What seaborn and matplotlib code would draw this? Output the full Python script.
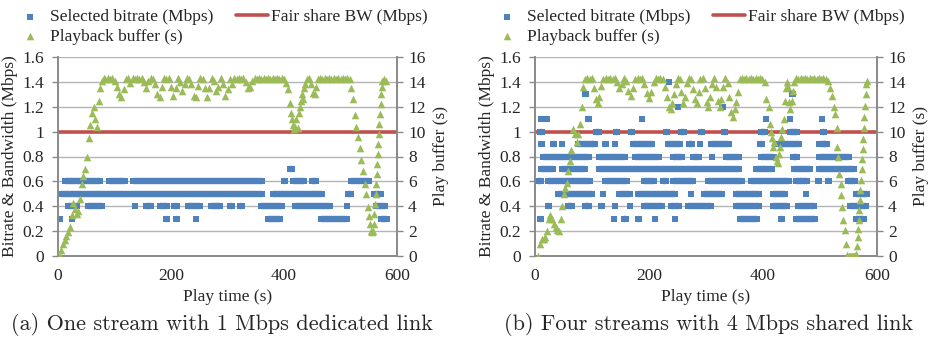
import matplotlib
matplotlib.use('Agg')
import matplotlib.pyplot as plt
import seaborn as sns

# ---- panel (a): one stream, 1 Mbps dedicated link ----
# bitrate runs per level: (first segment, last segment) in play time (s)
a_levels = [0.3, 0.4, 0.5, 0.6, 0.7]
a_runs = [
    [(4, 4), (24, 24), (191, 193), (208, 211), (245, 245), (371, 393), (465, 512), (571, 583)],
    [(17, 34), (53, 78), (136, 136), (156, 164), (180, 193), (206, 211), (230, 252), (270, 287),
     (304, 308), (322, 326), (359, 397), (419, 482), (512, 512), (562, 579)],
    [(5, 361), (380, 468), (513, 518), (559, 571)],
    [(12, 75), (90, 119), (132, 361), (400, 401), (416, 436), (450, 456), (519, 550)],
    [(410, 414)],
]
a_buf_t = [3, 6, 9, 12, 15, 18, 21, 24, 27, 30,
           33, 36, 39, 42, 45, 48, 51, 54, 57, 60,
           63, 66, 69, 72, 75, 78, 81, 84, 88, 92,
           96, 100, 104, 108, 112, 116, 120, 124, 128, 132,
           136, 140, 144, 148, 152, 156, 160, 164, 168, 172,
           176, 180, 184, 188, 192, 196, 200, 204, 208, 212,
           216, 220, 224, 228, 232, 236, 240, 244, 248, 252,
           256, 260, 264, 268, 272, 276, 280, 284, 288, 292,
           296, 300, 304, 308, 312, 316, 320, 324, 328, 332,
           336, 340, 344, 348, 352, 356, 360, 364, 368, 372,
           376, 380, 384, 388, 392, 396, 400, 404, 407, 410,
           412, 414, 416, 418, 420, 422, 424, 426, 428, 430,
           432, 434, 436, 438, 441, 444, 448, 451, 454, 457,
           460, 464, 468, 472, 476, 480, 484, 488, 492, 496,
           500, 504, 508, 512, 516, 519, 522, 525, 528, 531,
           534, 537, 540, 543, 545, 548, 550, 552, 554, 556,
           558, 559, 560, 561, 562, 563, 564, 565, 566, 567,
           568, 569, 570, 571, 572, 573, 574, 577, 580]
a_buf_v = [0.0, 0.5, 1.0, 1.3, 1.6, 1.9, 2.3, 3.3, 4.3, 3.8,
           3.4, 3.6, 4.6, 5.8, 6.4, 7.0, 8.0, 9.5, 10.5, 11.5,
           12.0, 11.0, 10.4, 12.5, 13.5, 14.1, 14.3, 14.2, 14.3, 14.2,
           14.3, 14.1, 13.6, 13.0, 12.8, 13.4, 14.2, 14.3, 13.9, 14.3,
           14.2, 14.3, 14.2, 14.3, 14.0, 13.5, 14.1, 14.3, 14.2, 13.8,
           13.0, 12.8, 13.6, 14.3, 14.2, 14.3, 13.6, 12.9, 13.5, 14.3,
           14.0, 13.3, 13.8, 14.3, 14.2, 13.8, 12.9, 12.8, 13.7, 14.3,
           14.2, 13.5, 12.8, 13.5, 14.3, 14.1, 13.3, 13.6, 14.3, 13.8,
           12.9, 13.4, 14.2, 13.8, 14.3, 14.2, 14.3, 14.2, 14.3, 14.0,
           13.5, 13.6, 14.1, 14.3, 14.2, 14.3, 14.2, 14.3, 14.2, 14.3,
           14.2, 14.3, 14.2, 14.3, 14.2, 14.3, 14.2, 13.9, 13.4, 12.3,
           11.5, 11.0, 10.5, 10.2, 10.4, 11.0, 10.3, 11.5, 12.0, 12.5,
           13.0, 12.6, 13.5, 13.8, 14.2, 14.3, 13.8, 13.1, 13.0, 13.6,
           14.2, 14.3, 14.2, 14.3, 14.2, 14.3, 14.2, 14.3, 14.2, 14.3,
           14.2, 14.3, 14.2, 14.3, 14.2, 13.5, 12.6, 11.3, 10.4, 9.6,
           8.7, 7.7, 6.8, 5.8, 5.0, 3.9, 3.2, 2.6, 2.0, 1.9,
           2.0, 2.6, 3.4, 4.2, 5.0, 5.8, 6.6, 7.4, 8.2, 9.0,
           9.8, 10.6, 11.4, 12.2, 13.0, 13.6, 14.1, 14.2, 14.1]

# ---- panel (b): four streams, 4 Mbps shared link ----
b_levels = [0.3, 0.4, 0.5, 0.6, 0.7, 0.8, 0.9, 1.0, 1.1, 1.2, 1.3, 1.4]
b_runs = [
    [(8, 10), (139, 139), (157, 159), (180, 182), (210, 211), (245, 246), (359, 390), (432, 434),
     (458, 492), (563, 577)],
    [(22, 24), (58, 65), (87, 94), (116, 118), (140, 140), (166, 166), (192, 223), (239, 252),
     (268, 308), (353, 393), (417, 442), (461, 490), (552, 580)],
    [(40, 100), (119, 119), (148, 167), (180, 246), (274, 274), (297, 328), (353, 393), (417, 439),
     (476, 476), (563, 583)],
    [(5, 10), (22, 97), (122, 161), (192, 208), (224, 229), (242, 278), (303, 363), (379, 445),
     (458, 477), (496, 498), (514, 515), (549, 562)],
    [(11, 32), (48, 88), (113, 358), (388, 416), (455, 483), (499, 559)],
    [(14, 94), (113, 158), (175, 217), (242, 258), (277, 287), (311, 311), (335, 358), (397, 419),
     (452, 460), (499, 551)],
    [(10, 12), (31, 33), (48, 48), (75, 106), (122, 124), (140, 141), (172, 206), (233, 255),
     (271, 276), (290, 290), (309, 340), (394, 399), (426, 463), (499, 513)],
    [(8, 12), (107, 112), (142, 144), (169, 170), (230, 232), (256, 261), (291, 293), (332, 334),
     (397, 404), (447, 460), (505, 507)],
    [(10, 10), (20, 21), (93, 94), (187, 187), (406, 406), (447, 447), (503, 504)],
    [(250, 250), (328, 330)],
    [(88, 90), (450, 452)],
    [(235, 235)],
]
b_buf_t = [6, 9, 12, 15, 18, 21, 24, 27, 30, 33,
           36, 39, 42, 45, 48, 50, 53, 56, 58, 61,
           64, 67, 70, 73, 76, 79, 82, 85, 88, 92,
           96, 100, 104, 107, 110, 113, 116, 120, 124, 128,
           132, 136, 140, 144, 148, 152, 156, 160, 164, 168,
           172, 176, 180, 184, 188, 192, 196, 200, 204, 208,
           212, 216, 220, 224, 228, 232, 235, 238, 241, 244,
           247, 250, 254, 257, 260, 263, 266, 270, 274, 278,
           281, 284, 287, 290, 294, 298, 301, 304, 307, 310,
           314, 318, 321, 324, 327, 330, 334, 338, 341, 344,
           347, 350, 353, 356, 359, 363, 367, 371, 375, 379,
           383, 387, 391, 395, 399, 403, 406, 410, 412, 414,
           416, 418, 420, 422, 424, 426, 428, 430, 432, 434,
           436, 438, 440, 442, 444, 446, 448, 450, 452, 455,
           458, 462, 466, 470, 474, 478, 482, 486, 490, 494,
           498, 502, 506, 510, 514, 518, 521, 524, 527, 529,
           530, 532, 534, 536, 537, 539, 541, 544, 546, 548,
           550, 552, 554, 556, 558, 560, 562, 564, 565, 566,
           567, 568, 569, 570, 571, 572, 573, 574, 575, 576,
           577, 578, 579, 580, 581, 582]
b_buf_v = [0.0, 1.0, 1.4, 1.4, 1.5, 2.0, 3.0, 3.3, 3.0, 2.6,
           2.3, 2.1, 2.0, 3.0, 4.0, 5.0, 5.5, 5.9, 6.8, 7.6,
           8.5, 10.2, 9.8, 9.2, 9.8, 10.6, 12.0, 13.6, 14.2, 14.3,
           14.2, 14.3, 13.5, 12.6, 12.3, 12.8, 13.7, 14.2, 14.3, 14.2,
           14.3, 14.2, 14.3, 14.0, 13.5, 13.8, 14.3, 14.1, 13.3, 12.9,
           13.5, 14.2, 14.3, 14.2, 14.3, 13.8, 13.1, 12.7, 13.2, 14.0,
           14.3, 14.2, 14.3, 14.2, 13.6, 12.8, 12.0, 11.8, 12.3, 13.0,
           13.8, 14.3, 14.2, 13.2, 12.3, 12.8, 13.9, 14.3, 14.2, 13.4,
           12.6, 12.3, 13.2, 14.2, 14.3, 13.5, 12.4, 12.0, 12.8, 13.8,
           14.3, 13.6, 12.5, 12.0, 12.6, 13.6, 14.3, 13.9, 12.8, 11.6,
           11.2, 11.8, 12.4, 13.2, 14.2, 14.3, 14.2, 14.3, 14.2, 14.3,
           14.2, 14.3, 14.2, 14.3, 14.2, 14.0, 12.6, 12.0, 10.6, 10.0,
           9.5, 8.8, 9.2, 8.0, 7.6, 7.5, 8.2, 8.8, 9.6, 10.2,
           11.0, 12.5, 13.5, 14.0, 13.6, 12.4, 11.8, 12.5, 13.3, 14.0,
           14.3, 14.2, 14.3, 14.2, 14.3, 14.2, 14.3, 14.2, 14.3, 14.2,
           14.3, 14.2, 14.3, 14.2, 14.1, 13.5, 12.9, 12.0, 11.4, 10.3,
           8.8, 8.0, 6.6, 5.8, 4.9, 3.9, 2.9, 2.1, 1.0, 0.1,
           0.0, 0.0, 0.0, 0.0, 0.0, 0.0, 0.0, 0.2, 0.8, 1.5,
           2.2, 2.9, 3.7, 4.5, 5.3, 6.1, 7.0, 7.8, 8.6, 9.4,
           10.3, 11.2, 12.1, 13.0, 13.8, 14.1]

# fair share bandwidth is 1 Mbps per stream in both runs
fair_t = [0, 600]
fair_bw = [1, 1]

left_ticks = [0, 0.2, 0.4, 0.6, 0.8, 1.0, 1.2, 1.4, 1.6]
left_labels = ['0', '0.2', '0.4', '0.6', '0.8', '1', '1.2', '1.4', '1.6']
right_ticks = [0, 2, 4, 6, 8, 10, 12, 14, 16]
x_ticks = [0, 200, 400, 600]

sns.set_style('white')
plt.rcParams['font.family'] = ['Liberation Serif', 'DejaVu Serif']

BLUE = '#4f81bd'
RED = '#c0504d'
GREEN = '#9bbb59'
GRID = '#b4b4b4'
AXC = '#8a8a8a'
FS = 12.5
SQ = 4.6   # square side in points
W, H = 930, 340

fig = plt.figure(figsize=(9.3, 3.4), dpi=100)


def panel(x0, x1, levels, runs, buf_t, buf_v, caption, leg_x, cap_x):
    ax = fig.add_axes([x0 / W, 1 - 256 / H, (x1 - x0) / W, 199 / H])
    ax.set_axisbelow(True)
    ax.yaxis.grid(True, color=GRID, lw=1)

    sns.lineplot(x=fair_t, y=fair_bw, ax=ax, color=RED, lw=2.6, zorder=2,
                 label='Fair share BW (Mbps)')

    # each run of equal bitrate: squares at both ends joined by a bar of the same height
    xs, ys = [], []
    for lev, rr in zip(levels, runs):
        st = [r[0] for r in rr]
        en = [r[1] for r in rr]
        ax.hlines([lev] * len(rr), st, en, colors=BLUE, lw=SQ, zorder=3)
        xs += st + en
        ys += [lev] * (2 * len(rr))
    sns.scatterplot(x=xs, y=ys, ax=ax, marker='s', s=SQ ** 2, color=BLUE,
                    linewidth=0, zorder=3, label='Selected bitrate (Mbps)')

    ax2 = ax.twinx()
    sns.scatterplot(x=buf_t, y=buf_v, ax=ax2, marker='^', s=30, color=GREEN,
                    linewidth=0, zorder=4, label='Playback buffer (s)')

    for a in (ax, ax2):
        if a.get_legend() is not None:
            a.get_legend().remove()

    ax.set_xlim(0, 600)
    ax.set_ylim(0, 1.6)
    ax2.set_ylim(0, 16)
    ax.set_xticks(x_ticks)
    ax.set_yticks(left_ticks)
    ax.set_yticklabels(left_labels)
    ax2.set_yticks(right_ticks)

    for a in (ax, ax2):
        a.spines['top'].set_visible(False)
        for s in ('left', 'right', 'bottom'):
            a.spines[s].set_color(AXC)
            a.spines[s].set_linewidth(1.2)
        a.tick_params(length=4, width=1, color=AXC, labelsize=FS, pad=5)
    ax.tick_params(axis='y', pad=6)
    ax2.tick_params(axis='y', pad=4)

    ax.set_xlabel('Play time (s)', fontsize=FS, labelpad=3)
    ax.set_ylabel('Bitrate & Bandwidth (Mbps)', fontsize=FS, labelpad=3)
    ax2.set_ylabel('Play buffer (s)', fontsize=FS, labelpad=5)

    h1, l1 = ax.get_legend_handles_labels()
    h2, l2 = ax2.get_legend_handles_labels()
    hd = dict(zip(l1 + l2, h1 + h2))
    order = ['Selected bitrate (Mbps)', 'Playback buffer (s)', 'Fair share BW (Mbps)']
    fig.legend([hd[k] for k in order], order, loc='upper left',
               bbox_to_anchor=(leg_x / W, 1 - 9 / H), bbox_transform=fig.transFigure,
               ncol=2, frameon=False, fontsize=FS, borderpad=0, borderaxespad=0,
               handlelength=1.85, handletextpad=0.2, columnspacing=1.3,
               labelspacing=0.2, scatterpoints=1)

    fig.text(cap_x / W, 1 - 325 / H, caption, ha='center', va='center',
             family='cmr10', fontsize=16)
    return ax, ax2


panel(58, 397, a_levels, a_runs, a_buf_t, a_buf_v,
      '(a) One stream with 1 Mbps dedicated link', 14, 222)
panel(535, 877, b_levels, b_runs, b_buf_t, b_buf_v,
      '(b) Four streams with 4 Mbps shared link', 491, 708)

fig.savefig('out.png', dpi=100)
